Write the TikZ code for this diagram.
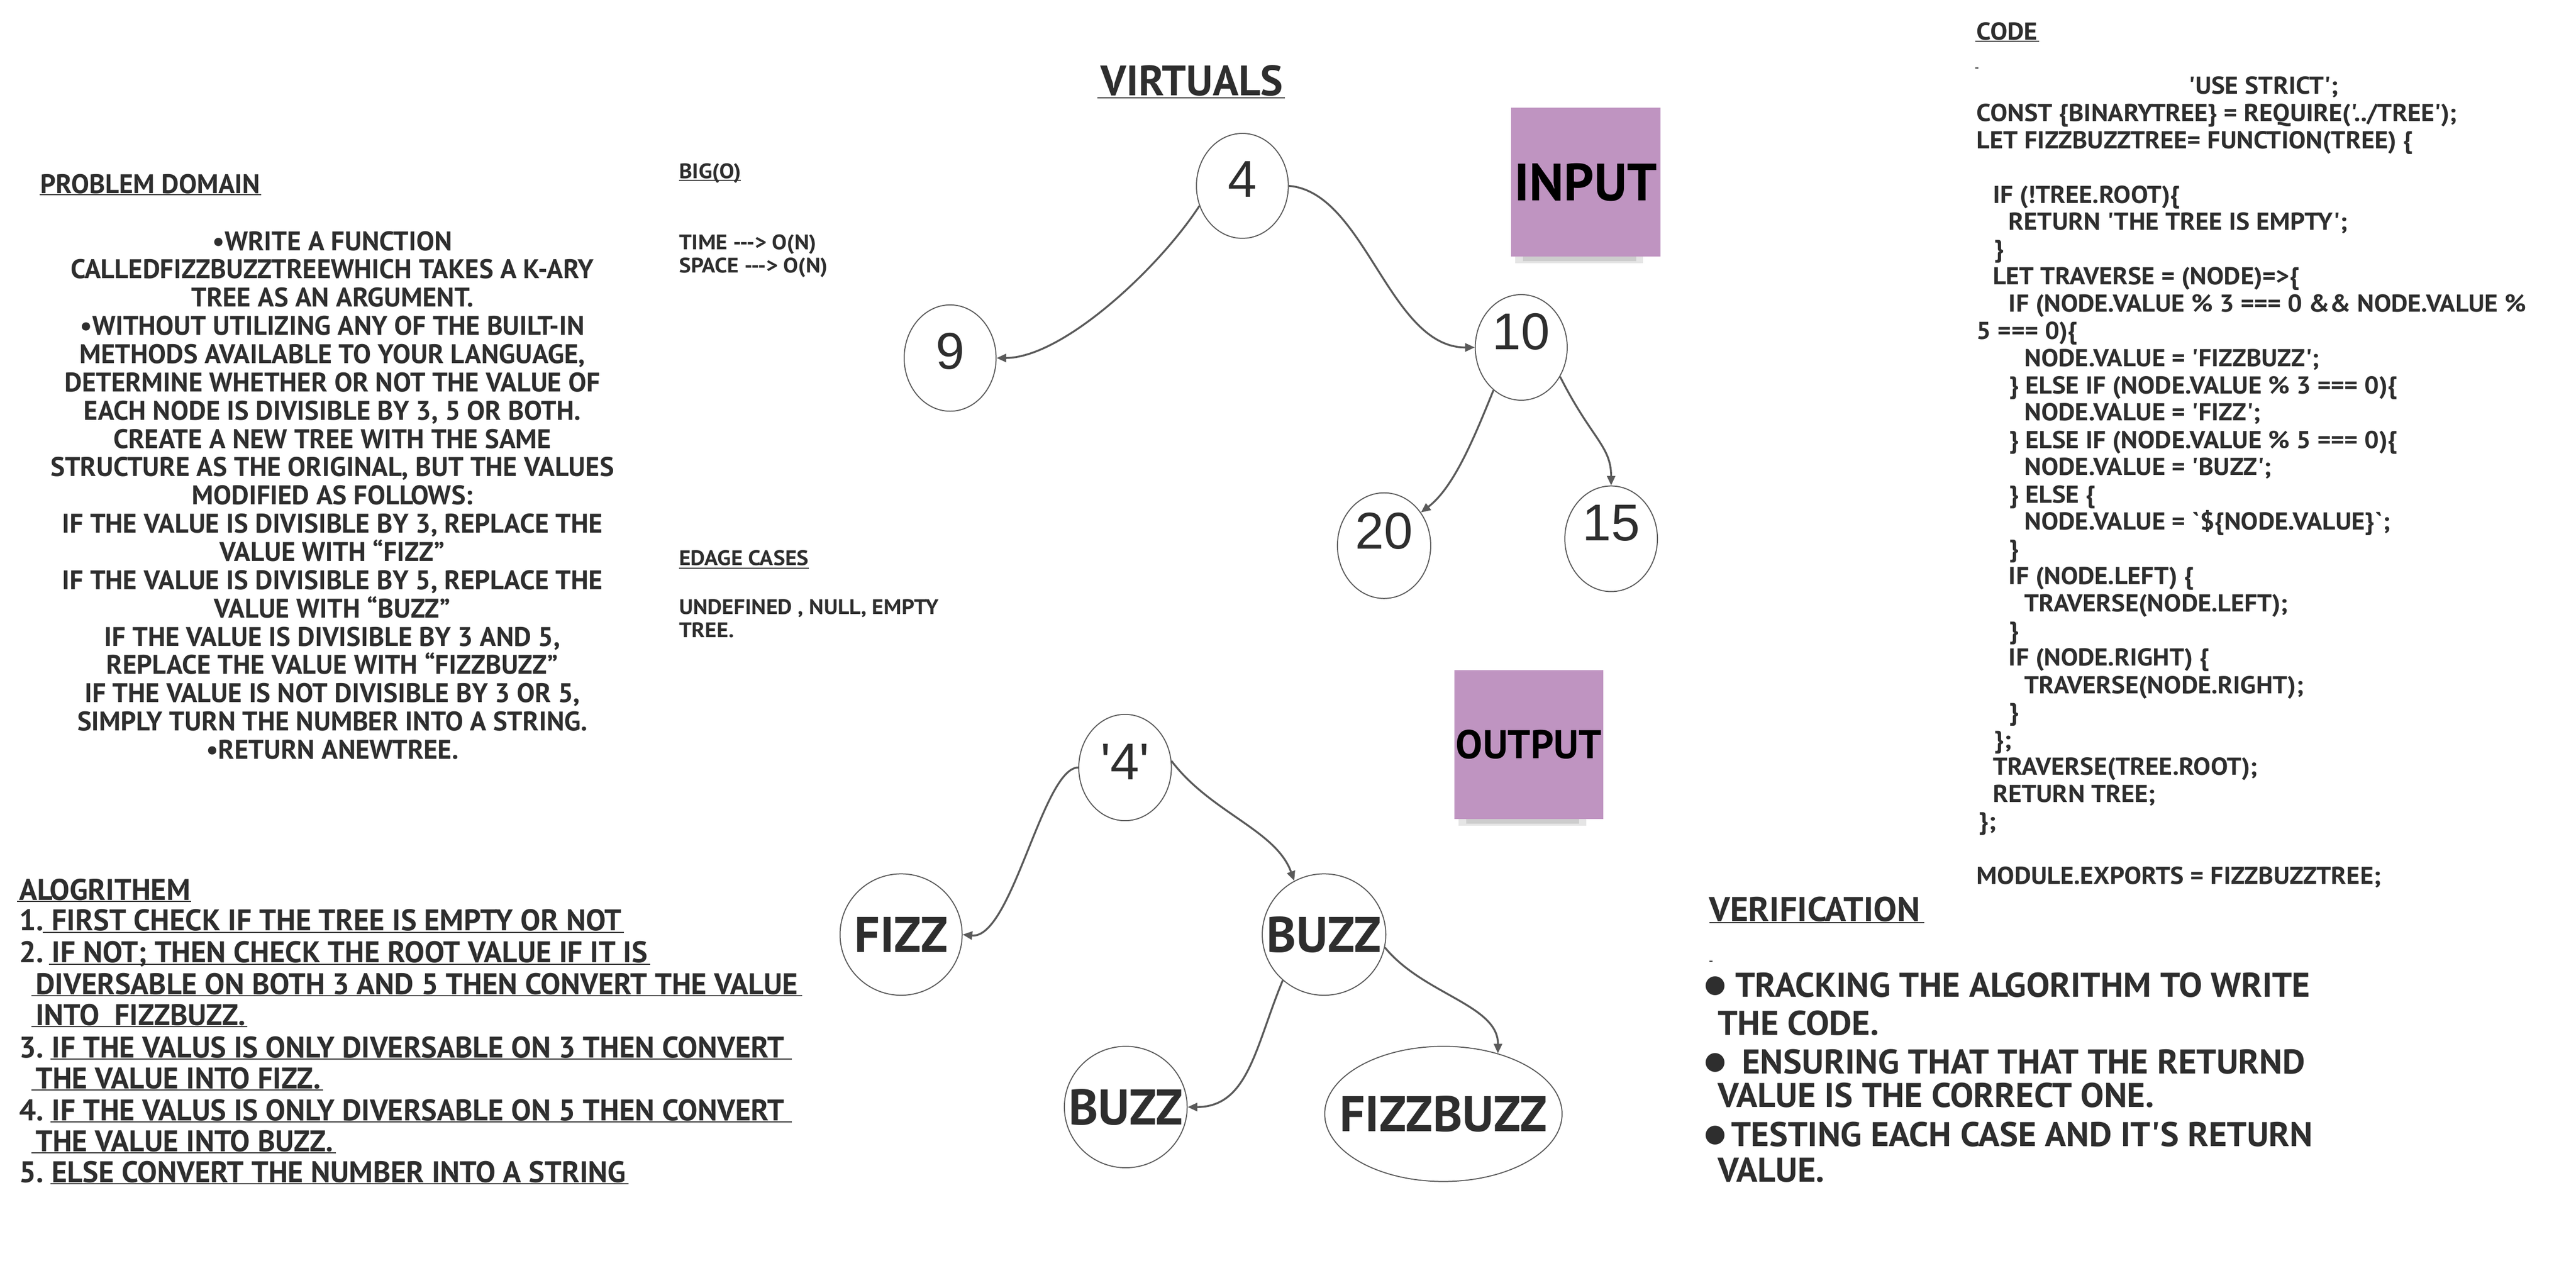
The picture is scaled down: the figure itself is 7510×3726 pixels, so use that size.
\documentclass[tikz,border=0pt]{standalone}
\usepackage{fontspec}
\setmainfont{Liberation Sans}
\usetikzlibrary{shapes.geometric,arrows.meta}
\definecolor{ink}{HTML}{2E2E2E}
\definecolor{edgec}{HTML}{5A5A5A}
\definecolor{sticky}{HTML}{BF94C1}
\font\hfPD="PT Sans/B" at 7.86pt
\font\hfBig="PT Sans/B:extend=1.06" at 6.14pt
\font\hfVirt="PT Sans/B" at 12.4pt
\font\hfInput="PT Sans/B" at 15.3pt
\font\hfOutput="PT Sans/B" at 11.7pt
\font\hfNode="PT Sans/B" at 14.6pt
\font\hfAlg="PT Sans/B" at 8.7pt
\font\hfCode="PT Sans/B:extend=1.05" at 7.14pt
\font\hfVer="PT Sans/B:extend=1.02" at 10pt
\font\hfBul="DejaVu Sans" at 7.2pt
\font\numf="Liberation Sans" at 15.1pt
\begin{document}
\begin{tikzpicture}[x=0.1pt,y=-0.1pt,
  txt/.style={inner sep=0pt, outer sep=0pt, text=ink},
  ul/.style={draw=ink, line width=0.3pt},
  tnode/.style={ellipse, draw=edgec, line width=0.3pt, inner sep=0pt, text=ink},
  conn/.style={draw=edgec, line width=0.55pt, -{Triangle[length=2.8pt,width=2.4pt]}},
  note/.style={fill=sticky, draw=none, inner sep=0pt, text=black, minimum width=43.5pt, minimum height=43.5pt},
  shade1/.style={fill=black, opacity=0.10, draw=none},
  code/.style={txt, font=\hfCode, anchor=base west},
  alg/.style={txt, font=\hfAlg, anchor=base west},
  ver/.style={txt, font=\hfVer, anchor=base west},
  wlabel/.style={label={[txt, font=\hfNode]center:#1}}]
\useasboundingbox (0,0) rectangle (7510,3726);
\fill[white] (0,0) rectangle (7510,3726);

% ---------------- Problem domain ----------------
\node[txt, font=\hfPD, anchor=base west] (pdh) at (118,564) {PROBLEM DOMAIN};
\draw[ul] ([xshift=-0.3pt,yshift=-0.4pt]pdh.base west) -- ([xshift=0.3pt,yshift=-0.4pt]pdh.base east);
\foreach \t [count=\i] in {
 {•WRITE A FUNCTION},
 {CALLEDFIZZBUZZTREEWHICH TAKES A K-ARY},
 {TREE AS AN ARGUMENT.},
 {•WITHOUT UTILIZING ANY OF THE BUILT-IN},
 {METHODS AVAILABLE TO YOUR LANGUAGE,},
 {DETERMINE WHETHER OR NOT THE VALUE OF},
 {EACH NODE IS DIVISIBLE BY 3, 5 OR BOTH.},
 {CREATE A NEW TREE WITH THE SAME},
 {STRUCTURE AS THE ORIGINAL, BUT THE VALUES},
 {MODIFIED AS FOLLOWS:},
 {IF THE VALUE IS DIVISIBLE BY 3, REPLACE THE},
 {VALUE WITH “FIZZ”},
 {IF THE VALUE IS DIVISIBLE BY 5, REPLACE THE},
 {VALUE WITH “BUZZ”},
 {IF THE VALUE IS DIVISIBLE BY 3 AND 5,},
 {REPLACE THE VALUE WITH “FIZZBUZZ”},
 {IF THE VALUE IS NOT DIVISIBLE BY 3 OR 5,},
 {SIMPLY TURN THE NUMBER INTO A STRING.},
 {•RETURN ANEWTREE.}}{
  \node[txt, font=\hfPD, anchor=base] (pd\i) at (969,{730+82.4*(\i-1)}) {\t};
}

% ---------------- Big O / edge cases ----------------
\node[txt, font=\hfBig, anchor=base west] (bigo) at (1980,521) {BIG(O)};
\draw[ul] ([yshift=-0.5pt]bigo.base west) -- ([yshift=-0.5pt]bigo.base east);
\node[txt, font=\hfBig, anchor=base west] (tm) at (1980,728) {TIME ---> O(N)};
\node[txt, font=\hfBig, anchor=base west] (sp) at (1980,795) {SPACE ---> O(N)};
\node[txt, font=\hfBig, anchor=base west] (edc) at (1980,1649) {EDAGE CASES};
\draw[ul] ([yshift=-0.7pt]edc.base west) -- ([yshift=-0.7pt]edc.base east);
\node[txt, font=\hfBig, anchor=base west] (und) at (1980,1791) {UNDEFINED , NULL, EMPTY};
\node[txt, font=\hfBig, anchor=base west] (tre) at (1980,1858) {TREE.};

% ---------------- Virtuals title ----------------
\node[txt, font=\hfVirt, anchor=base] (virt) at (3475,279) {VIRTUALS};
\draw[ul] ([xshift=-1pt,yshift=-0.6pt]virt.base west) -- ([xshift=0.6pt,yshift=-0.6pt]virt.base east);

% ---------------- Sticky notes ----------------
\fill[shade1] (4418,742) rectangle (4790,768);
\fill[shade1] (4440,746) rectangle (4770,762);
\node[note, font=\hfInput] (inp) at (4623,531) {INPUT};
\fill[shade1] (4252,2381) rectangle (4624,2407);
\fill[shade1] (4274,2385) rectangle (4604,2401);
\node[note, font=\hfOutput] (outp) at (4457,2171) {OUTPUT};

% ---------------- Input tree ----------------
\node[tnode, font=\numf, minimum width=26.8pt, minimum height=30.6pt, text depth=3.8pt] (i4) at (3622,542) {4};
\node[tnode, font=\numf, minimum width=26.8pt, minimum height=31pt, text depth=4pt] (i9) at (2770,1044) {9};
\node[tnode, font=\numf, minimum width=26.8pt, minimum height=30.8pt, text depth=9.2pt] (i10) at (4435,1013) {10};
\node[tnode, font=\numf, minimum width=27.2pt, minimum height=30.8pt, text depth=8.8pt] (i20) at (4035,1591) {20};
\node[tnode, font=\numf, minimum width=27pt, minimum height=30.8pt, text depth=9.2pt] (i15) at (4697,1571) {15};
\draw[conn] (i4.-155) .. controls (3380,780) and (3100,1043) .. (i9.east);
\draw[conn] (i4.east) .. controls (3980,560) and (4050,1014) .. (i10.west);
\draw[conn] (i10.-123) .. controls (4300,1270) and (4240,1420) .. (i20.42);
\draw[conn] (i10.-37) .. controls (4640,1280) and (4697,1300) .. (i15.north);

% ---------------- Output tree ----------------
\node[tnode, font=\numf, minimum width=27pt, minimum height=31pt, text depth=3.4pt] (o4) at (3280,2238) {'4'};
\node[tnode, minimum width=35.6pt, minimum height=35.4pt, wlabel=FIZZ] (ofz) at (2627,2725) {};
\node[tnode, minimum width=36pt, minimum height=35.4pt, wlabel=BUZZ] (obz) at (3860,2725) {};
\node[tnode, minimum width=35.8pt, minimum height=35.4pt, wlabel=BUZZ] (obz2) at (3282,3228) {};
\node[tnode, minimum width=69.2pt, minimum height=39.4pt, wlabel=FIZZBUZZ] (ofb) at (4208,3248) {};
\draw[conn] (o4.west) .. controls (3040,2238) and (2950,2740) .. (ofz.east);
\draw[conn] (o4.8) .. controls (3530,2370) and (3720,2420) .. (obz.119);
\draw[conn] (obz.-132) .. controls (3660,3050) and (3640,3228) .. (obz2.east);
\draw[conn] (obz.-12) .. controls (4150,2900) and (4368,2930) .. (ofb.48);

% ---------------- Algorithm ----------------
\node[alg] (algh) at (56,2624) {ALOGRITHEM};
\draw[ul] ([xshift=-0.6pt,yshift=-0.4pt]algh.base west) -- ([xshift=0.2pt,yshift=-0.4pt]algh.base east);
\node[alg] (n1) at (56,2714) {1.};
\node[alg] (a1) at (151,2714) {FIRST CHECK IF THE TREE IS EMPTY OR NOT};
\node[alg] (n2) at (56,2807) {2.};
\node[alg] (a2) at (151,2807) {IF NOT; THEN CHECK THE ROOT VALUE IF IT IS};
\node[alg] (a2b) at (104,2900) {DIVERSABLE ON BOTH 3 AND 5 THEN CONVERT THE VALUE};
\node[alg] (a2c) at (104,2989) {INTO~ FIZZBUZZ.};
\node[alg] (n3) at (56,3084) {3.};
\node[alg] (a3) at (151,3084) {IF THE VALUS IS ONLY DIVERSABLE ON 3 THEN CONVERT};
\node[alg] (a3b) at (104,3174) {THE VALUE INTO FIZZ.};
\node[alg] (n4) at (56,3267) {4.};
\node[alg] (a4) at (151,3267) {IF THE VALUS IS ONLY DIVERSABLE ON 5 THEN CONVERT};
\node[alg] (a4b) at (104,3358) {THE VALUE INTO BUZZ.};
\node[alg] (n5) at (56,3448) {5.};
\node[alg] (a5) at (151,3448) {ELSE CONVERT THE NUMBER INTO A STRING};
\draw[ul] ([xshift=-2.7pt,yshift=-0.4pt]a1.base west) -- ([xshift=0.6pt,yshift=-0.4pt]a1.base east);
\draw[ul] ([xshift=-0.8pt,yshift=-0.4pt]a2.base west) -- ([xshift=0.8pt,yshift=-0.4pt]a2.base east);
\draw[ul] ([xshift=-1.2pt,yshift=-0.4pt]a2b.base west) -- ([xshift=1.2pt,yshift=-0.4pt]a2b.base east);
\draw[ul] ([xshift=-1.2pt,yshift=-0.4pt]a2c.base west) -- ([xshift=0.4pt,yshift=-0.4pt]a2c.base east);
\draw[ul] ([xshift=-0.4pt,yshift=-0.4pt]a3.base west) -- ([xshift=2.2pt,yshift=-0.4pt]a3.base east);
\draw[ul] ([xshift=-1.2pt,yshift=-0.4pt]a3b.base west) -- ([xshift=0.7pt,yshift=-0.4pt]a3b.base east);
\draw[ul] ([xshift=-0.4pt,yshift=-0.4pt]a4.base west) -- ([xshift=2.2pt,yshift=-0.4pt]a4.base east);
\draw[ul] ([xshift=-1.2pt,yshift=-0.4pt]a4b.base west) -- ([xshift=0.7pt,yshift=-0.4pt]a4b.base east);
\draw[ul] ([xshift=-0.4pt,yshift=-0.4pt]a5.base west) -- ([xshift=0.8pt,yshift=-0.4pt]a5.base east);

% ---------------- Code ----------------
\node[code] (codeh) at (5763,116) {CODE};
\draw[ul] ([xshift=-0.5pt,yshift=-0.4pt]codeh.base west) -- ([xshift=0.5pt,yshift=-0.4pt]codeh.base east);
\draw[ul] (5758,199) -- (5768,199);
\node[code] (c0) at (6381,274) {'USE STRICT';};
\node[code] (c1) at (5763,353) {CONST \{BINARYTREE\} = REQUIRE('../TREE');};
\node[code] (c2) at (5763,433) {LET FIZZBUZZTREE= FUNCTION(TREE) \{};
\node[code] (c4) at (5810,592) {IF (!TREE.ROOT)\{};
\node[code] (c5) at (5856,671) {RETURN 'THE TREE IS EMPTY';};
\node[code] (c6) at (5815,751) {\}};
\node[code] (c7) at (5810,830) {LET TRAVERSE = (NODE)=>\{};
\node[code] (c8) at (5856,910) {IF (NODE.VALUE \% 3 === 0 \&\& NODE.VALUE \%};
\node[code] (c9) at (5763,989) {5 === 0)\{};
\node[code] (c10) at (5902,1068) {NODE.VALUE = 'FIZZBUZZ';};
\node[code] (c11) at (5858,1148) {\} ELSE IF (NODE.VALUE \% 3 === 0)\{};
\node[code] (c12) at (5902,1227) {NODE.VALUE = 'FIZZ';};
\node[code] (c13) at (5858,1307) {\} ELSE IF (NODE.VALUE \% 5 === 0)\{};
\node[code] (c14) at (5902,1386) {NODE.VALUE = 'BUZZ';};
\node[code] (c15) at (5858,1466) {\} ELSE \{};
\node[code] (c16) at (5902,1545) {NODE.VALUE = `\$\{NODE.VALUE\}`;};
\node[code] (c17) at (5858,1625) {\}};
\node[code] (c18) at (5856,1704) {IF (NODE.LEFT) \{};
\node[code] (c19) at (5902,1784) {TRAVERSE(NODE.LEFT);};
\node[code] (c20) at (5858,1863) {\}};
\node[code] (c21) at (5856,1942) {IF (NODE.RIGHT) \{};
\node[code] (c22) at (5902,2022) {TRAVERSE(NODE.RIGHT);};
\node[code] (c23) at (5858,2101) {\}};
\node[code] (c24) at (5815,2181) {\};};
\node[code] (c25) at (5810,2260) {TRAVERSE(TREE.ROOT);};
\node[code] (c26) at (5810,2340) {RETURN TREE;};
\node[code] (c27) at (5770,2419) {\};};
\node[code] (c29) at (5763,2578) {MODULE.EXPORTS = FIZZBUZZTREE;};

% ---------------- Verification ----------------
\node[ver] (verh) at (4983,2686) {VERIFICATION};
\draw[ul] ([yshift=-0.35pt]verh.base west) -- ([xshift=1.2pt,yshift=-0.35pt]verh.base east);
\draw[ul] (4983,2802) -- (4993,2802);
\node[txt, font=\hfBul] (b1) at (5000,2875) {●};
\node[txt, font=\hfBul] (b2) at (5000,3099) {●};
\node[txt, font=\hfBul] (b3) at (5000,3310) {●};
\node[ver] (v1) at (5059,2907) {TRACKING THE ALGORITHM TO WRITE};
\node[ver] (v2) at (5008,3018) {THE CODE.};
\node[ver] (v3) at (5079,3131) {ENSURING THAT THAT THE RETURND};
\node[ver] (v4) at (5008,3229) {VALUE IS THE CORRECT ONE.};
\node[ver] (v5) at (5047,3342) {TESTING EACH CASE AND IT'S RETURN};
\node[ver] (v6) at (5008,3447) {VALUE.};
\end{tikzpicture}
\end{document}
